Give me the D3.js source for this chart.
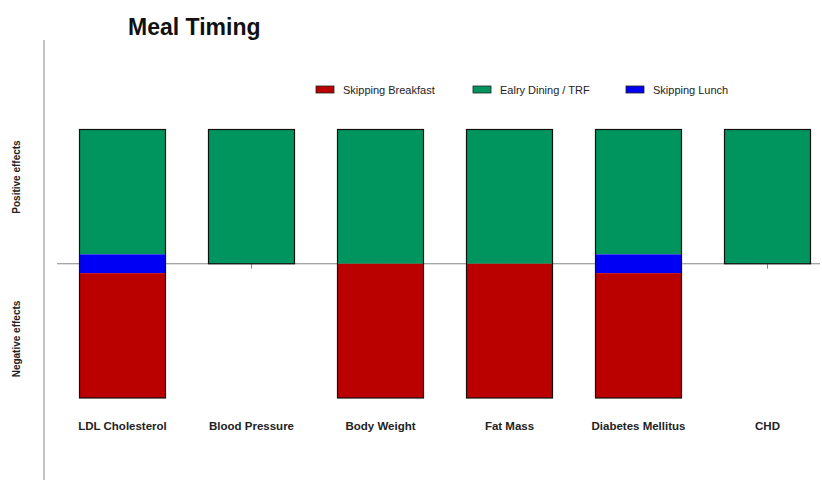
<!DOCTYPE html>
<html>
<head>
<meta charset="utf-8">
<script src="https://cdn.jsdelivr.net/npm/d3@7"></script>
<style>
  body { margin: 0; background: #fff; }
  svg { font-family: "Liberation Sans", Arial, sans-serif; }
</style>
</head>
<body>
<svg id="chart" width="822" height="480"></svg>
<script>
// Data (+1 = positive effect, -1 = negative effect)
const categories = ['LDL Cholesterol', 'Blood Pressure', 'Body Weight', 'Fat Mass', 'Diabetes Mellitus', 'CHD'];
const skippingBreakfast = [-1, 0, -1, -1, -1, 0];
const earlyDining = [1, 1, 1, 1, 1, 1];
// skipping lunch: a band straddling zero (half-height on each side)
const skippingLunch = [0.07, 0, 0, 0, 0.07, 0];

const seriesNames = ['Skipping Breakfast', 'Ealry Dining / TRF', 'Skipping Lunch'];
const seriesColors = ['#bb0000', '#00955f', '#0000f5'];

const svg = d3.select('#chart');

const x = d3.scaleBand()
    .domain(categories)
    .range([58, 832])
    .paddingInner(1 / 3)
    .paddingOuter(1 / 6);

const y = d3.scaleLinear().domain([-1, 1]).range([398, 129.5]);

// Build segments per category
const segments = [];
categories.forEach((c, i) => {
    const b = skippingLunch[i];
    if (earlyDining[i] > 0) segments.push({ cat: c, s: 1, y0: b, y1: earlyDining[i] });
    if (b > 0) segments.push({ cat: c, s: 2, y0: -b, y1: b });
    if (skippingBreakfast[i] < 0) segments.push({ cat: c, s: 0, y0: skippingBreakfast[i], y1: -b });
});

// vertical axis line
svg.append('line')
    .attr('x1', 44).attr('x2', 44)
    .attr('y1', 40).attr('y2', 480)
    .attr('stroke', '#888').attr('stroke-width', 1);

// zero line with ticks
const xAxis = svg.append('g')
    .attr('transform', `translate(0,${y(0)})`)
    .call(d3.axisBottom(x).tickSize(5).tickFormat(''));
xAxis.select('.domain').remove();
xAxis.selectAll('.tick line').attr('stroke', '#888');
svg.append('line')
    .attr('x1', 57).attr('x2', 820)
    .attr('y1', y(0)).attr('y2', y(0))
    .attr('stroke', '#888').attr('stroke-width', 1);

// bars
svg.append('g').selectAll('rect')
    .data(segments)
    .join('rect')
    .attr('x', d => x(d.cat))
    .attr('width', x.bandwidth())
    .attr('y', d => y(d.y1))
    .attr('height', d => y(d.y0) - y(d.y1))
    .attr('fill', d => seriesColors[d.s]);

// outline around each bar's full extent
svg.append('g').selectAll('rect')
    .data(categories)
    .join('rect')
    .attr('x', d => x(d))
    .attr('width', x.bandwidth())
    .attr('y', (d, i) => y(Math.max(earlyDining[i], 0)))
    .attr('height', (d, i) => y(Math.min(skippingBreakfast[i], 0)) - y(Math.max(earlyDining[i], 0)))
    .attr('fill', 'none')
    .attr('stroke', '#111')
    .attr('stroke-width', 1.2);

// category labels
svg.append('g').selectAll('text')
    .data(categories)
    .join('text')
    .attr('x', d => x(d) + x.bandwidth() / 2)
    .attr('y', 430)
    .attr('text-anchor', 'middle')
    .attr('font-size', 11.5)
    .attr('font-weight', 'bold')
    .attr('fill', '#222')
    .text(d => d);

// title
svg.append('text')
    .attr('x', 128).attr('y', 35)
    .attr('font-size', 23)
    .attr('font-weight', 'bold')
    .attr('fill', '#111')
    .text('Meal Timing');

// y labels
[['Positive effects', 177], ['Negative effects', 339]].forEach(([t, cy]) => {
    svg.append('text')
        .attr('transform', `translate(20,${cy}) rotate(-90)`)
        .attr('text-anchor', 'middle')
        .attr('font-size', 10)
        .attr('font-weight', 'bold')
        .attr('fill', '#222')
        .text(t);
});

// legend
const legendX = [316, 473, 626];
const legend = svg.append('g').selectAll('g')
    .data(seriesNames)
    .join('g')
    .attr('transform', (d, i) => `translate(${legendX[i]},86)`);
legend.append('rect')
    .attr('width', 18).attr('height', 7)
    .attr('fill', (d, i) => seriesColors[i])
    .attr('stroke', '#222').attr('stroke-width', 0.8);
legend.append('text')
    .attr('x', 27).attr('y', 7.5)
    .attr('font-size', 11)
    .attr('fill', '#222')
    .text(d => d);
</script>
</body>
</html>
